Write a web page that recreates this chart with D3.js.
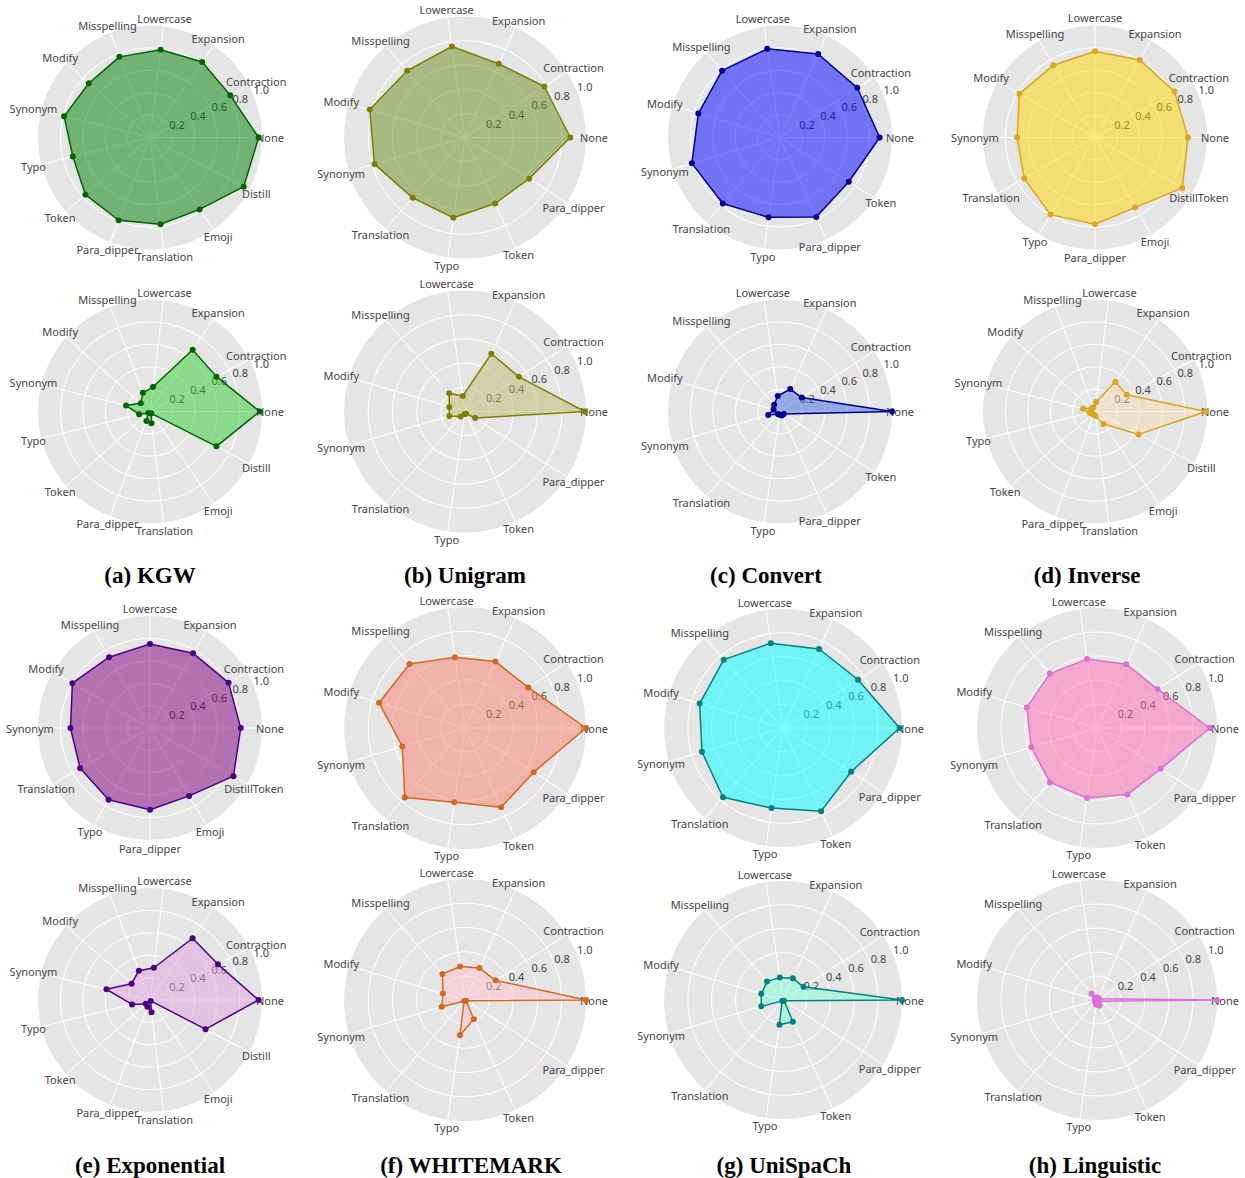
<!DOCTYPE html>
<html>
<head>
<meta charset="utf-8">
<script src="https://cdn.jsdelivr.net/npm/d3@7"></script>
<style>
  body { margin: 0; background: #fff; }
  svg text { font-family: "Noto Sans", sans-serif; }
  .caption { font-family: "Liberation Serif", "Times New Roman", serif; font-weight: bold; font-size: 23px; fill: #000; }
</style>
</head>
<body>
<svg id="chart" width="1245" height="1178"></svg>
<script>
/* CATEGORIES */
const catsKGW = ["None", "Contraction", "Expansion", "Lowercase", "Misspelling", "Modify", "Synonym", "Typo", "Token", "Para_dipper", "Translation", "Emoji", "Distill"];
const catsUnigram = ["None", "Contraction", "Expansion", "Lowercase", "Misspelling", "Modify", "Synonym", "Translation", "Typo", "Token", "Para_dipper"];
const catsConvert = ["None", "Contraction", "Expansion", "Lowercase", "Misspelling", "Modify", "Synonym", "Translation", "Typo", "Para_dipper", "Token"];
const catsInverse = ["None", "Contraction", "Expansion", "Lowercase", "Misspelling", "Modify", "Synonym", "Translation", "Typo", "Para_dipper", "Emoji", "DistillToken"];
const radialTicks = [0.2, 0.4, 0.6, 0.8, 1.0];

/* SERIES VALUES */
const kgwTop = [0.97, 0.81, 0.82, 0.79, 0.77, 0.73, 0.79, 0.71, 0.77, 0.79, 0.78, 0.78, 0.945];
const kgwBottom = [0.98, 0.67, 0.67, 0.22, 0.18, 0.11, 0.22, 0.10, 0.02, 0.09, 0.105, 0.02, 0.67];
const unigramTop = [0.87, 0.78, 0.67, 0.76, 0.73, 0.82, 0.78, 0.66, 0.67, 0.60, 0.63];
const unigramBottom = [0.99, 0.53, 0.525, 0.13, 0.20, 0.135, 0.135, 0.056, 0.02, 0.02, 0.10];
const convertTop = [0.89, 0.82, 0.82, 0.80, 0.79, 0.76, 0.82, 0.78, 0.72, 0.78, 0.73];
const convertBottom = [1.0, 0.23, 0.22, 0.14, 0.08, 0.06, 0.11, 0.03, 0.03, 0.04, 0.04];
const inverseTop = [0.83, 0.82, 0.80, 0.77, 0.745, 0.78, 0.695, 0.73, 0.795, 0.775, 0.72, 0.90];
const inverseBottom = [0.99, 0.32, 0.32, 0.085, 0.04, 0.04, 0.11, 0.05, 0.03, 0.03, 0.04, 0.135, 0.44];
const expTop = [0.81, 0.81, 0.77, 0.75, 0.73, 0.80, 0.71, 0.72, 0.74, 0.73, 0.70, 0.86];
const expBottom = [0.97, 0.685, 0.67, 0.29, 0.28, 0.22, 0.40, 0.165, 0.05, 0.065, 0.11, 0.01, 0.56];
const whiteTop = [1.0, 0.62, 0.605, 0.59, 0.70, 0.74, 0.54, 0.76, 0.62, 0.72, 0.675];
const whiteBottom = [1.0, 0.30, 0.29, 0.28, 0.285, 0.19, 0.20, 0.01, 0.295, 0.175, 0.01];
const unispachTop = [0.98, 0.75, 0.73, 0.72, 0.76, 0.73, 0.71, 0.77, 0.68, 0.77, 0.68];
const unispachBottom = [1.0, 0.205, 0.20, 0.19, 0.205, 0.19, 0.19, 0.01, 0.21, 0.20, 0.01];
const lingTop = [0.94, 0.60, 0.585, 0.58, 0.60, 0.61, 0.57, 0.60, 0.59, 0.61, 0.63];
const lingBottom = [1.0, 0.02, 0.02, 0.02, 0.07, 0.02, 0.02, 0.02, 0.04, 0.05, 0.02];

const captions = ["(a) KGW", "(b) Unigram", "(c) Convert", "(d) Inverse", "(e) Exponential", "(f) WHITEMARK", "(g) UniSpaCh", "(h) Linguistic"];

/* LAYOUT */
const rowY = [137.5, 411.5, 728, 1000];
const captionY = [583, 1173];
const captionX = [150, 465, 766, 1087, 150, 471, 784, 1095];

const panels = [
  { cx: 150, cy: rowY[0], r: 112, cats: catsKGW, vals: kgwTop, line: "darkgreen", fill: "green" },
  { cx: 150, cy: rowY[1], r: 112, cats: catsKGW, vals: kgwBottom, line: "darkgreen", fill: "limegreen" },
  { cx: 465, cy: rowY[0], r: 121, cats: catsUnigram, vals: unigramTop, line: "olive", fill: "olivedrab" },
  { cx: 465, cy: rowY[1], r: 121, cats: catsUnigram, vals: unigramBottom, line: "olive", fill: "darkkhaki" },
  { cx: 780, cy: rowY[0], r: 112, cats: catsConvert, vals: convertTop, line: "darkblue", fill: "blue" },
  { cx: 780, cy: rowY[1], r: 112, cats: catsConvert, vals: convertBottom, line: "darkblue", fill: "royalblue" },
  { cx: 1095, cy: rowY[0], r: 112, cats: catsInverse, vals: inverseTop, line: "goldenrod", fill: "gold" },
  { cx: 1095, cy: rowY[1], r: 112, cats: catsKGW, vals: inverseBottom, line: "goldenrod", fill: "wheat" },
  { cx: 150, cy: rowY[2], r: 112, cats: catsInverse, vals: expTop, line: "indigo", fill: "purple" },
  { cx: 150, cy: rowY[3], r: 112, cats: catsKGW, vals: expBottom, line: "indigo", fill: "plum" },
  { cx: 465, cy: rowY[2], r: 121, cats: catsUnigram, vals: whiteTop, line: "chocolate", fill: "salmon" },
  { cx: 465, cy: rowY[3], r: 121, cats: catsUnigram, vals: whiteBottom, line: "chocolate", fill: "pink" },
  { cx: 783, cy: rowY[2], r: 119, cats: catsUnigram, vals: unispachTop, line: "teal", fill: "cyan" },
  { cx: 783, cy: rowY[3], r: 119, cats: catsUnigram, vals: unispachBottom, line: "teal", fill: "aquamarine" },
  { cx: 1097, cy: rowY[2], r: 120, cats: catsUnigram, vals: lingTop, line: "orchid", fill: "hotpink" },
  { cx: 1097, cy: rowY[3], r: 120, cats: catsUnigram, vals: lingBottom, line: "orchid", fill: "violet" }
];

const svg = d3.select("#chart");

function drawRadar(p) {
  const g = svg.append("g").attr("transform", `translate(${p.cx},${p.cy})`);
  const n = p.cats.length;
  const rScale = d3.scaleLinear().domain([0, 1]).range([0, p.r]);
  // angle counter-clockwise from east, first category at 0
  const aScale = d3.scaleLinear().domain([0, n]).range([0, 2 * Math.PI]);
  const px = (i, rad) => rad * Math.cos(aScale(i));
  const py = (i, rad) => -rad * Math.sin(aScale(i));

  g.append("circle").attr("r", p.r).attr("fill", "#e5e5e5");

  g.selectAll(".grid")
    .data(radialTicks.slice(0, -1))
    .join("circle")
    .attr("class", "grid")
    .attr("r", d => rScale(d))
    .attr("fill", "none")
    .attr("stroke", "#fff")
    .attr("stroke-width", 1);

  g.selectAll(".spoke")
    .data(p.cats)
    .join("line")
    .attr("class", "spoke")
    .attr("x1", 0).attr("y1", 0)
    .attr("x2", (d, i) => px(i, p.r))
    .attr("y2", (d, i) => py(i, p.r))
    .attr("stroke", "#fff")
    .attr("stroke-width", 1);

  // radial tick labels
  g.selectAll(".rtick")
    .data(radialTicks)
    .join("text")
    .attr("class", "rtick")
    .attr("x", d => rScale(d) * 0.94 + 6)
    .attr("y", d => -(rScale(d) * 0.38 + 5))
    .attr("text-anchor", "middle")
    .attr("dominant-baseline", "central")
    .attr("font-size", 11)
    .attr("fill", "#444")
    .text(d => d3.format(".1f")(d));

  // category labels
  g.selectAll(".alabel")
    .data(p.cats)
    .join("text")
    .attr("class", "alabel")
    .attr("x", (d, i) => px(i, p.r + 8))
    .attr("y", (d, i) => py(i, p.r + 8))
    .attr("text-anchor", "middle")
    .attr("dominant-baseline", "central")
    .attr("font-size", 11)
    .attr("fill", "#444")
    .text(d => d);

  const lineGen = d3.lineRadial()
    .angle((d, i) => Math.PI / 2 - aScale(i))
    .radius(d => rScale(d))
    .curve(d3.curveLinearClosed);

  g.append("path")
    .datum(p.vals)
    .attr("d", lineGen)
    .attr("fill", p.fill)
    .attr("fill-opacity", 0.5)
    .attr("stroke", p.line)
    .attr("stroke-width", 1.5)
    .attr("stroke-linejoin", "round");

  g.selectAll(".dot")
    .data(p.vals)
    .join("circle")
    .attr("class", "dot")
    .attr("cx", (d, i) => px(i, rScale(d)))
    .attr("cy", (d, i) => py(i, rScale(d)))
    .attr("r", 3)
    .attr("fill", p.line);
}

panels.forEach(drawRadar);

svg.selectAll(".caption")
  .data(captions)
  .join("text")
  .attr("class", "caption")
  .attr("x", (d, i) => captionX[i])
  .attr("y", (d, i) => captionY[Math.floor(i / 4)])
  .attr("text-anchor", "middle")
  .text(d => d);
</script>
</body>
</html>
